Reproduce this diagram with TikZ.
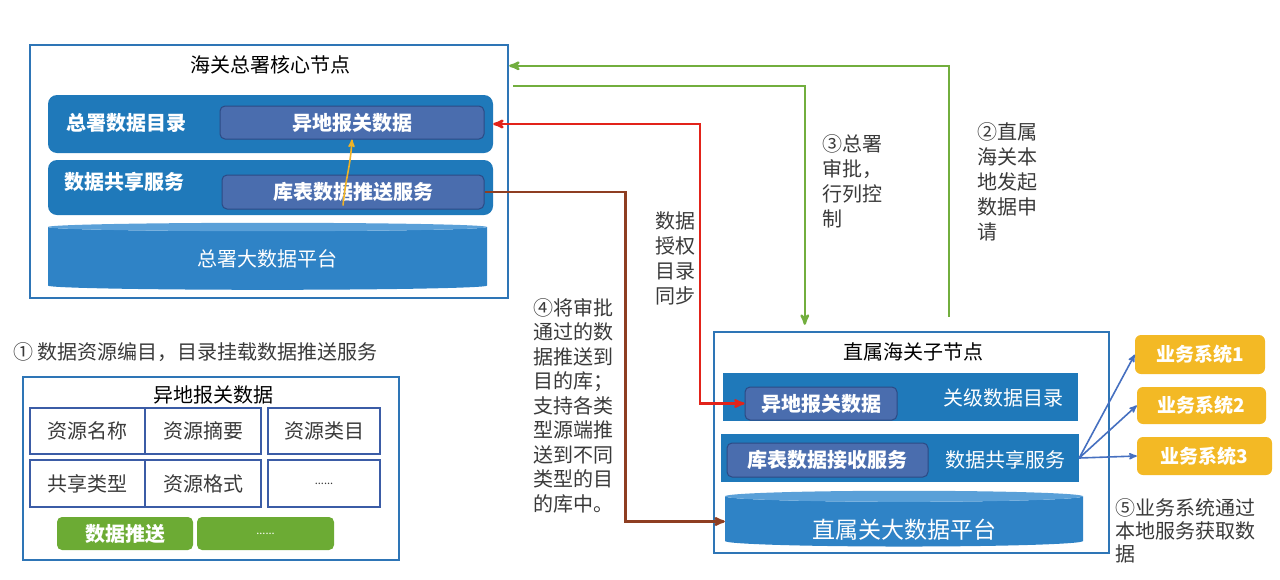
\documentclass[tikz,border=0pt]{standalone}
\usepackage{fontspec}
\setmainfont{Noto Sans CJK SC}
\usepackage{tikz}
\usetikzlibrary{shapes}
\usetikzlibrary{arrows}
\usetikzlibrary{calc}

\definecolor{frame_blue}{HTML}{2E75B6}
\definecolor{bar_blue}{HTML}{1F79BA}
\definecolor{inner_blue}{HTML}{4A6DAE}
\definecolor{inner_line}{HTML}{2C4A85}
\definecolor{cyl_blue}{HTML}{2F83C6}
\definecolor{cyl_top}{HTML}{5AA0D8}
\definecolor{cell_line}{HTML}{3B5CA6}
\definecolor{btn_green}{HTML}{6CAB34}
\definecolor{line_green}{HTML}{72AE3E}
\definecolor{line_red}{HTML}{E2231A}
\definecolor{line_brown}{HTML}{8E3E22}
\definecolor{sys_yellow}{HTML}{F3B925}
\definecolor{line_blue}{HTML}{4670C0}
\definecolor{line_gold}{HTML}{F0B326}
\definecolor{note_gray}{HTML}{3A3A3A}

\tikzset{
	basenode/.style = {
		align=center,
		inner sep=0pt,
		text centered,
		font=\fontsize{20}{25}\selectfont
	},
	node_frame/.style = {
		basenode,
		rectangle,
		draw=frame_blue,
		line width=2.4pt
	},
	node_bar/.style = {
		basenode,
		rectangle,
		fill=bar_blue,
		text=white
	},
	node_bar_round/.style = {
		node_bar,
		rounded corners=9pt
	},
	node_inner/.style = {
		basenode,
		rectangle,
		rounded corners=5pt,
		fill=inner_blue,
		draw=inner_line,
		line width=1pt,
		text=white,
		font=\fontsize{20}{25}\selectfont\bfseries
	},
	node_cyl/.style = {
		basenode,
		cylinder,
		shape border rotate=90,
		aspect=0.06,
		cylinder uses custom fill,
		cylinder body fill=cyl_blue,
		cylinder end fill=cyl_top,
		text=white
	},
	node_cell/.style = {
		basenode,
		rectangle,
		draw=cell_line,
		line width=2pt,
		text=note_gray
	},
	node_btn/.style = {
		basenode,
		rectangle,
		rounded corners=5pt,
		fill=btn_green,
		text=white,
		font=\fontsize{20}{25}\selectfont\bfseries,
		minimum height=33pt
	},
	node_sys/.style = {
		basenode,
		rectangle,
		rounded corners=6pt,
		fill=sys_yellow,
		text=white,
		font=\fontsize{19}{24}\selectfont\bfseries
	},
	node_note/.style = {
		basenode,
		align=left,
		anchor=north west,
		text=note_gray
	},
	line_flow/.style = {
		line width=2.4pt
	},
}

\begin{document}
\begin{tikzpicture}[>=stealth', x=1pt, y=-1pt]
\useasboundingbox (0,0) rectangle (1280,579);

% core node
\node [node_frame, minimum width=478pt, minimum height=253pt] (top_box) at (269,171.5) {};
\node [basenode] (top_title) at (270,65) {海关总署核心节点};
\node [node_bar_round, minimum width=445pt, minimum height=58pt] (top_dir) at (270.5,124) {};
\node [basenode, text=white, font=\fontsize{20}{25}\selectfont\bfseries] (top_dir_lbl) at (126,123) {总署数据目录};
\node [node_inner, minimum width=264pt, minimum height=33pt] (top_remote) at (352,122.5) {异地报关数据};
\node [node_bar_round, minimum width=445pt, minimum height=55pt] (top_share) at (270.5,187.5) {};
\node [basenode, text=white, font=\fontsize{20}{25}\selectfont\bfseries] (top_share_lbl) at (124,182) {数据共享服务};
\node [node_inner, minimum width=262pt, minimum height=34pt] (top_push) at (353,192) {库表数据推送服务};
\node [node_cyl, minimum width=439pt, minimum height=67pt] (top_cyl) at (267.5,258.5) {总署大数据平台};
\draw [line_gold, line width=1.6pt, ->] ([xshift=-10pt,yshift=4pt]top_push.south) .. controls +(3,-30) and +(-2,30) .. (top_remote.south);

% catalogue entry
\node [basenode, anchor=west, text=note_gray] (note_one) at (13,352) {① 数据资源编目，目录挂载数据推送服务};
\node [node_frame, minimum width=376pt, minimum height=183pt] (tbl_box) at (211,468.5) {};
\node [basenode] (tbl_title) at (213,395) {异地报关数据};
\node [node_cell, minimum width=115pt, minimum height=46pt] (cell_name) at (87.5,431) {资源名称};
\node [node_cell, minimum width=116pt, minimum height=46pt] (cell_abs) at (203,431) {资源摘要};
\node [node_cell, minimum width=112pt, minimum height=46pt] (cell_cat) at (324,431) {资源类目};
\node [node_cell, minimum width=115pt, minimum height=47pt] (cell_share) at (87.5,483.5) {共享类型};
\node [node_cell, minimum width=116pt, minimum height=47pt] (cell_fmt) at (203,483.5) {资源格式};
\node [node_cell, minimum width=112pt, minimum height=47pt, font=\fontsize{11}{12}\selectfont] (cell_more) at (324,483.5) {......};
\node [node_btn, minimum width=136pt] (btn_push) at (125,533.5) {数据推送};
\node [node_btn, minimum width=137pt, font=\fontsize{11}{12}\selectfont] (btn_more) at (265.5,533.5) {......};

% sub node
\node [node_frame, minimum width=395pt, minimum height=221pt] (sub_box) at (911.5,442.5) {};
\node [basenode] (sub_title) at (913,352) {直属海关子节点};
\node [node_bar, minimum width=355pt, minimum height=48pt] (sub_dir) at (900.5,397) {};
\node [basenode, text=white] (sub_dir_lbl) at (1003,398) {关级数据目录};
\node [node_inner, minimum width=152pt, minimum height=33pt] (sub_remote) at (821,403.5) {异地报关数据};
\node [node_bar, minimum width=358pt, minimum height=48pt] (sub_share) at (900,458) {};
\node [basenode, text=white] (sub_share_lbl) at (1005,460) {数据共享服务};
\node [node_inner, minimum width=201pt, minimum height=34pt] (sub_recv) at (827.5,460) {库表数据接收服务};
\node [node_cyl, minimum width=358pt, minimum height=49pt, text height=36pt, text depth=3pt, font=\fontsize{23}{28}\selectfont] (sub_cyl) at (904,521.5) {直属关大数据平台};

% business systems
\node [node_sys, minimum width=130pt, minimum height=39pt] (sys1) at (1200,354.5) {业务系统1};
\node [node_sys, minimum width=129pt, minimum height=37pt] (sys2) at (1201.5,405.5) {业务系统2};
\node [node_sys, minimum width=135pt, minimum height=38pt] (sys3) at (1204.5,456) {业务系统3};
\foreach \s in {sys1,sys2,sys3}
	\draw [line_blue, line width=1.6pt, ->] (sub_share.east) -- (\s.west);

% flows between nodes
\coordinate (g3_start) at (513,86);
\draw [line_flow, line_green, ->] ($(sub_box.north west)+(236,-14)$) |- ($(top_box.north east)+(0,22)$);
\draw [line_flow, line_green, ->] (g3_start) -| ($(sub_box.north west)+(92,-6)$);
\draw [line_flow, line_red, <->] (top_dir.east) -- ++(207,0) |- (sub_remote.west);
\draw [line_flow, line_brown, ->] (top_push.east) -- ++(141,0) |- (sub_cyl.west);

% notes
\node [node_note] (note_two) at (977,122) {②直属\\海关本\\地发起\\数据申\\请};
\node [node_note] (note_three) at (822,134) {③总署\\审批，\\行列控\\制};
\node [node_note] (note_sync) at (655,211) {数据\\授权\\目录\\同步};
\node [node_note, font=\fontsize{20}{24.5}\selectfont] (note_four) at (533,298) {④将审批\\通过的数\\据推送到\\目的库；\\支持各类\\型源端推\\送到不同\\类型的目\\的库中。};
\node [node_note, font=\fontsize{20}{23}\selectfont] (note_five) at (1115,498) {⑤业务系统通过\\本地服务获取数\\据};
\end{tikzpicture}
\end{document}
